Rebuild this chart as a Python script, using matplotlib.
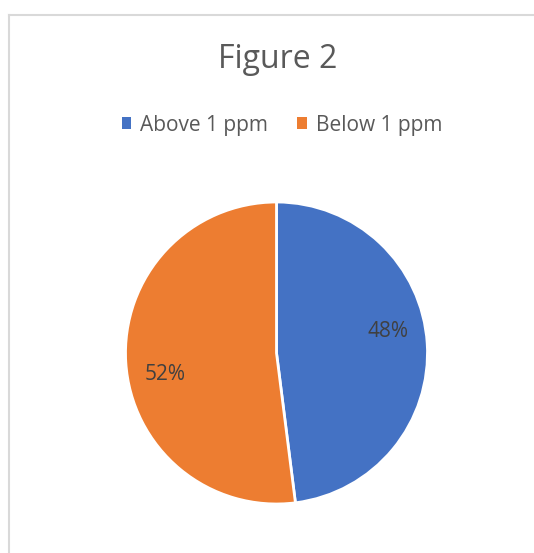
import numpy as np
import matplotlib
matplotlib.use("Agg")
import matplotlib.pyplot as plt
from matplotlib.lines import Line2D
from matplotlib.patches import Patch

# Chart data
title = "Figure 2"
labels = ["Above 1 ppm", "Below 1 ppm"]
values = [48, 52]
colors = ["#4472C4", "#ED7D31"]

plt.rcParams['font.family'] = ['Open Sans', 'DejaVu Sans']
text_color = "#595959"

W, H = 534, 553
fig = plt.figure(figsize=(W / 100, H / 100), dpi=100)
fig.patch.set_facecolor("white")

# Chart area border (only top and left edges visible in the crop)
fig.add_artist(Line2D([8.5 / W, 1.0], [1 - 14.5 / H, 1 - 14.5 / H], color="#d9d9d9", lw=1.5))
fig.add_artist(Line2D([8.5 / W, 8.5 / W], [1 - 14.5 / H, 0.0], color="#d9d9d9", lw=1.5))

# Title
fig.text(277.5 / W, 1 - 60 / H, title, ha="center", va="center", fontsize=23, color=text_color)

# Pie axes
cx, cy, r = 276.5, 353, 151
ax = fig.add_axes([(cx - r) / W, 1 - (cy + r) / H, 2 * r / W, 2 * r / H])
wedges, _ = ax.pie(values, colors=colors, startangle=90, counterclock=False,
                   wedgeprops=dict(edgecolor="white", linewidth=2))
ax.set_xlim(-1, 1)
ax.set_ylim(-1, 1)
ax.set_aspect("equal")
ax.axis("off")

# Percentage labels (rotated slightly like Excel's best-fit placement)
total = sum(values)
start = 90.0
for v in values:
    span = 360.0 * v / total
    mid = np.deg2rad(start - span / 2 + 7.5)
    ax.text(0.755 * np.cos(mid), 0.755 * np.sin(mid), f"{v / total:.0%}",
            ha="center", va="center", fontsize=15, color="#404040")
    start -= span

# Legend
handles = [Patch(facecolor=c, edgecolor="none", label=l) for c, l in zip(colors, labels)]
fig.legend(handles=handles, loc="center", bbox_to_anchor=(282 / W, 1 - 125 / H), ncol=2,
           frameon=False, fontsize=15, handlelength=0.45, handleheight=0.45,
           handletextpad=0.45, columnspacing=1.4, labelcolor=text_color)

fig.savefig("out.png", dpi=100)
